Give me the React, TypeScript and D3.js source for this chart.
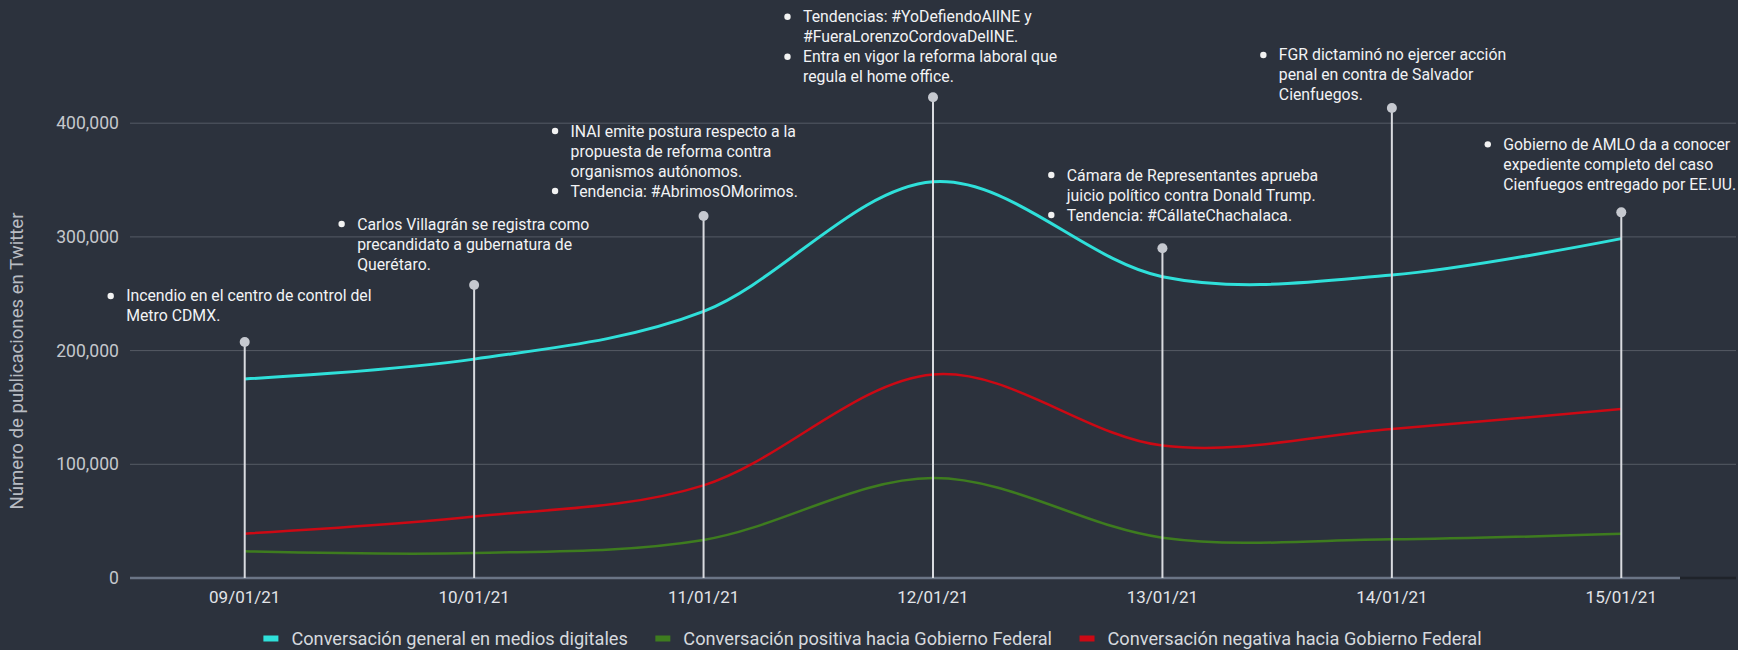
import * as d3 from "d3";
import { useEffect, useRef } from "react";

const dates = ["09/01/21", "10/01/21", "11/01/21", "12/01/21", "13/01/21", "14/01/21", "15/01/21"];

const general = [175000, 192500, 234500, 348500, 265000, 266500, 298500];
const positive = [23500, 22000, 33500, 88000, 35500, 34000, 39000];
const negative = [39000, 54000, 81500, 179000, 116500, 131000, 148700];

const seriesNames = [
  "Conversación general en medios digitales",
  "Conversación positiva hacia Gobierno Federal",
  "Conversación negativa hacia Gobierno Federal",
];

const yTicks = [0, 100000, 200000, 300000, 400000];

// value at which each annotation stem ends
const noteTop = [207600, 257700, 318400, 422800, 290000, 413400, 321600];

// each note: list of bullets, each bullet: wrapped lines
const notes: string[][][] = [
  [["Incendio en el centro de control del", "Metro CDMX."]],
  [["Carlos Villagrán se registra como", "precandidato a gubernatura de", "Querétaro."]],
  [
    ["INAI emite postura respecto a la", "propuesta de reforma contra", "organismos autónomos."],
    ["Tendencia: #AbrimosOMorimos."],
  ],
  [
    ["Tendencias: #YoDefiendoAlINE y", "#FueraLorenzoCordovaDelINE."],
    ["Entra en vigor la reforma laboral que", "regula el home office."],
  ],
  [
    ["Cámara de Representantes aprueba", "juicio político contra Donald Trump."],
    ["Tendencia: #CállateChachalaca."],
  ],
  [["FGR dictaminó no ejercer acción", "penal en contra de Salvador", "Cienfuegos."]],
  [["Gobierno de AMLO da a conocer", "expediente completo del caso", "Cienfuegos entregado por EE.UU."]],
];

// layout of the note blocks relative to the stem top
const noteDx = [-118.5, -117, -133, -130, -95.6, -113, -118];
const noteDy = [-46, -61, -85, -80.6, -73.3, -53, -68];

const colors = ["#2fe0da", "#3e7c1f", "#cc0914"];

const W = 1738;
const H = 650;
const FONT = "Roboto, 'Noto Sans', sans-serif";

export default function App() {
  const svgRef = useRef<SVGSVGElement | null>(null);

  useEffect(() => {
    const svg = d3.select(svgRef.current);
    svg.selectAll("*").remove();

    const left = 130;
    const right = 1736;
    const base = 578;

    const x = d3.scaleBand<string>().domain(dates).range([left, right]);
    const cx = (d: string) => (x(d) ?? 0) + x.bandwidth() / 2;
    const y = d3.scaleLinear().domain([0, 400000]).range([base, 123.2]);

    svg.append("rect").attr("width", W).attr("height", H).attr("fill", "#2c323d");

    // gridlines
    svg
      .append("g")
      .selectAll("line")
      .data(yTicks.filter((t) => t > 0))
      .join("line")
      .attr("x1", left)
      .attr("x2", right)
      .attr("y1", (d) => y(d))
      .attr("y2", (d) => y(d))
      .attr("stroke", "#555b65")
      .attr("stroke-width", 1);

    // y tick labels
    svg
      .append("g")
      .selectAll("text")
      .data(yTicks)
      .join("text")
      .attr("x", 119)
      .attr("y", (d) => y(d))
      .attr("dy", "0.35em")
      .attr("text-anchor", "end")
      .attr("font-family", FONT)
      .attr("font-size", 17.6)
      .attr("fill", "#c4c7cc")
      .text((d) => d3.format(",")(d));

    // y title
    svg
      .append("text")
      .attr("transform", `translate(23,361) rotate(-90)`)
      .attr("text-anchor", "middle")
      .attr("font-family", FONT)
      .attr("font-size", 18.6)
      .attr("fill", "#b8bcc3")
      .text("Número de publicaciones en Twitter");

    // baseline
    svg
      .append("line")
      .attr("x1", left)
      .attr("x2", 1680)
      .attr("y1", base)
      .attr("y2", base)
      .attr("stroke", "#6b7586")
      .attr("stroke-width", 2.5);
    svg
      .append("line")
      .attr("x1", 1680)
      .attr("x2", right)
      .attr("y1", base)
      .attr("y2", base)
      .attr("stroke", "#1f232a")
      .attr("stroke-width", 2.5);

    // x labels
    svg
      .append("g")
      .selectAll("text")
      .data(dates)
      .join("text")
      .attr("x", (d) => cx(d))
      .attr("y", 597)
      .attr("dy", "0.35em")
      .attr("text-anchor", "middle")
      .attr("font-family", FONT)
      .attr("font-size", 17)
      .attr("fill", "#e2e4e8")
      .text((d) => d);

    // series lines
    const line = d3
      .line<number>()
      .x((_, i) => cx(dates[i]))
      .y((v) => y(v))
      .curve(d3.curveCardinal.tension(0));

    [general, positive, negative].forEach((s, i) => {
      svg
        .append("path")
        .datum(s)
        .attr("fill", "none")
        .attr("stroke", colors[i])
        .attr("stroke-width", i === 0 ? 3 : 2.5)
        .attr("d", line);
    });

    // annotation stems and notes
    const stems = svg.append("g");
    dates.forEach((d, i) => {
      const sx = cx(d);
      const sy = y(noteTop[i]);
      stems
        .append("line")
        .attr("x1", sx)
        .attr("x2", sx)
        .attr("y1", base)
        .attr("y2", sy)
        .attr("stroke", "#d9dbe0")
        .attr("stroke-width", 2);
      stems.append("circle").attr("cx", sx).attr("cy", sy).attr("r", 5).attr("fill", "#c6c9d0");

      const tx = sx + noteDx[i];
      let ly = sy + noteDy[i];
      const g = svg.append("g");
      notes[i].forEach((bullet) => {
        g.append("circle").attr("cx", tx - 15.5).attr("cy", ly).attr("r", 3.2).attr("fill", "#f2f2f2");
        bullet.forEach((ln) => {
          g.append("text")
            .attr("x", tx)
            .attr("y", ly)
            .attr("dy", "0.35em")
            .attr("font-family", FONT)
            .attr("font-size", 15.8)
            .attr("fill", "#f2f3f5")
            .text(ln);
          ly += 20;
        });
      });
    });

    // legend
    const leg = svg.append("g");
    const items = seriesNames.map((name, i) => {
      const g = leg.append("g");
      g.append("rect").attr("x", 0).attr("y", -3).attr("width", 15).attr("height", 6).attr("fill", colors[i]);
      const t = g
        .append("text")
        .attr("x", 28)
        .attr("y", 0)
        .attr("dy", "0.35em")
        .attr("font-family", FONT)
        .attr("font-size", 18.2)
        .attr("fill", "#d6d9de")
        .text(name);
      const w = 28 + ((t.node() as SVGTextElement).getComputedTextLength() || 0);
      return { g, w };
    });
    const gap = 27.5;
    const total = d3.sum(items, (d) => d.w) + gap * (items.length - 1);
    let lx = 872.5 - total / 2;
    items.forEach(({ g, w }) => {
      g.attr("transform", `translate(${lx},638.5)`);
      lx += w + gap;
    });
  }, []);

  return (
    <div style={{ position: "absolute", left: 0, top: 0 }}>
      <svg ref={svgRef} width={W} height={H} style={{ display: "block" }} />
    </div>
  );
}
